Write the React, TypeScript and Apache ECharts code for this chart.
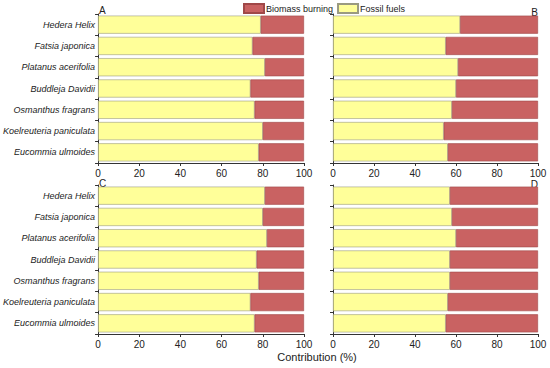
import React, { useEffect, useRef } from "react";
import * as echarts from "echarts";

const species = [
  "Hedera Helix",
  "Fatsia japonica",
  "Platanus acerifolia",
  "Buddleja Davidii",
  "Osmanthus fragrans",
  "Koelreuteria paniculata",
  "Eucommia ulmoides",
];
const xTicks = [0, 20, 40, 60, 80, 100];

const fossilA = [79, 75, 81, 74, 76, 80, 78];
const biomassA = [21, 25, 19, 26, 24, 20, 22];
const fossilB = [62, 55, 61, 60, 58, 54, 56];
const biomassB = [38, 45, 39, 40, 42, 46, 44];
const fossilC = [81, 80, 82, 77, 78, 74, 76];
const biomassC = [19, 20, 18, 23, 22, 26, 24];
const fossilD = [57, 58, 60, 57, 57, 56, 55];
const biomassD = [43, 42, 40, 43, 43, 44, 45];

const panelLabels = ["A", "B", "C", "D"];

const YELLOW = "#ffff99";
const RED = "#c96262";
const FONT = "Liberation Sans, Arial, sans-serif";

export default function App() {
  const ref = useRef<HTMLDivElement>(null);
  useEffect(() => {
    if (!ref.current) return;
    const chart = echarts.init(ref.current, null, { renderer: "svg" });
    const fossil = [fossilA, fossilB, fossilC, fossilD];
    const biomass = [biomassA, biomassB, biomassC, biomassD];
    const grids = [
      { left: 98, top: 14, width: 206, height: 149 },
      { left: 333, top: 14, width: 205, height: 149 },
      { left: 98, top: 185, width: 206, height: 149 },
      { left: 333, top: 185, width: 205, height: 149 },
    ];
    const xAxes = grids.map((_, i) => ({
      type: "value",
      gridIndex: i,
      min: 0,
      max: xTicks[xTicks.length - 1],
      interval: 20,
      splitLine: { show: false },
      axisLine: { show: true, lineStyle: { color: "#333", width: 1 } },
      axisTick: { show: true, length: 3, lineStyle: { color: "#333" } },
      axisLabel: { fontSize: 10, color: "#222", fontFamily: FONT, margin: 5 },
    }));
    const yAxes = grids.map((_, i) => ({
      type: "category",
      gridIndex: i,
      data: species,
      inverse: true,
      axisLine: { show: true, lineStyle: { color: "#333", width: 1 } },
      axisTick: { show: true, length: 3, lineStyle: { color: "#333" } },
      axisLabel: {
        show: i % 2 === 0,
        fontSize: 9,
        fontStyle: "italic",
        color: "#222",
        fontFamily: FONT,
        margin: 3,
      },
    }));
    const series: any[] = [];
    grids.forEach((_, i) => {
      series.push({
        name: "Fossil fuels",
        type: "bar",
        xAxisIndex: i,
        yAxisIndex: i,
        stack: "s" + i,
        data: fossil[i],
        barCategoryGap: "15%",
        itemStyle: { color: YELLOW, borderColor: "#9a9a80", borderWidth: 0.6 },
      });
      series.push({
        name: "Biomass burning",
        type: "bar",
        xAxisIndex: i,
        yAxisIndex: i,
        stack: "s" + i,
        data: biomass[i],
        barCategoryGap: "15%",
        itemStyle: { color: RED, borderColor: "#a04848", borderWidth: 0.6 },
      });
    });
    const labelPos = [
      { x: 99, y: 5, align: "left" },
      { x: 538, y: 7, align: "right" },
      { x: 99, y: 178, align: "left" },
      { x: 538, y: 179, align: "right" },
    ];
    chart.setOption({
      animation: false,
      backgroundColor: "#fff",
      grid: grids,
      xAxis: xAxes,
      yAxis: yAxes,
      legend: {
        data: ["Biomass burning", "Fossil fuels"],
        left: 243,
        top: 3,
        icon: "rect",
        itemWidth: 20,
        itemHeight: 9,
        itemGap: 4,
        padding: 0,
        textStyle: { fontSize: 9, color: "#222", fontFamily: FONT, padding: [0, 0, 0, -3] },
      },
      series,
      graphic: [
        ...panelLabels.map((t, i) => ({
          type: "text",
          x: labelPos[i].x,
          y: labelPos[i].y,
          style: {
            text: t,
            fontSize: 10,
            fill: "#222",
            fontFamily: FONT,
            textAlign: labelPos[i].align,
          },
        })),
        {
          type: "text",
          x: 317,
          y: 351,
          style: {
            text: "Contribution (%)",
            fontSize: 11,
            fill: "#222",
            fontFamily: FONT,
            textAlign: "center",
          },
        },
      ],
    });
    return () => chart.dispose();
  }, []);
  return (
    <div
      ref={ref}
      style={{ position: "fixed", left: 0, top: 0, width: 550, height: 368 }}
    />
  );
}
